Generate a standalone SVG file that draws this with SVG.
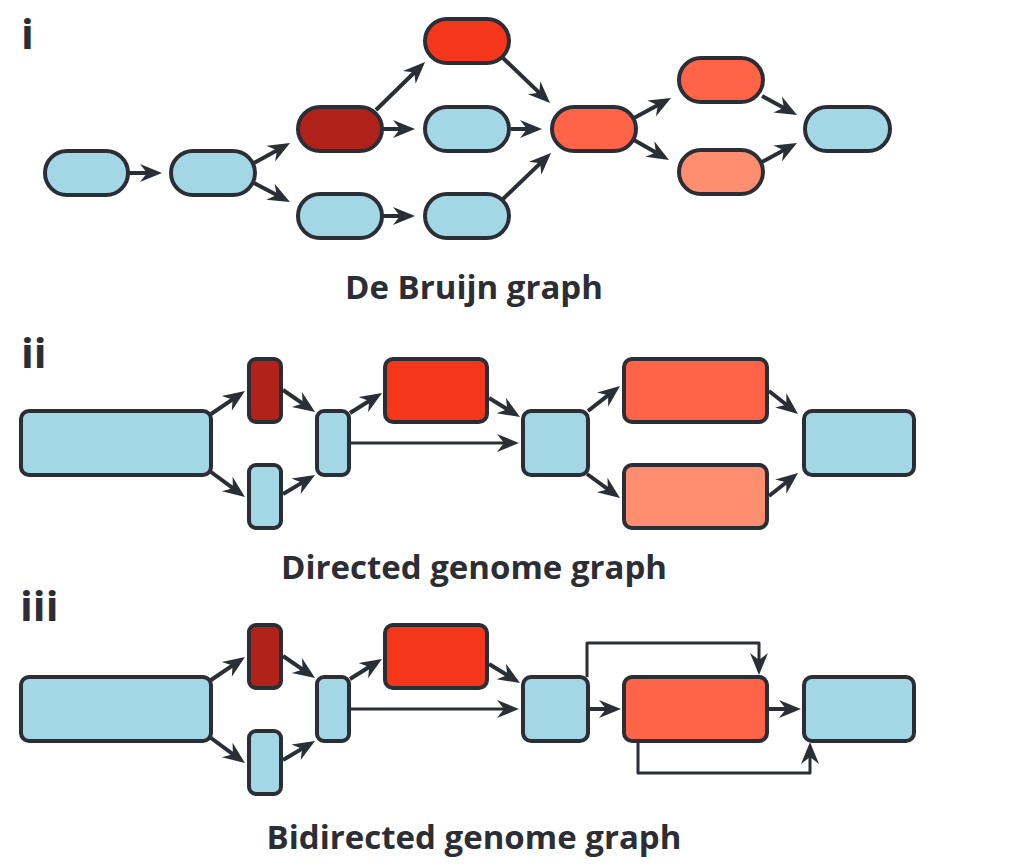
<svg xmlns="http://www.w3.org/2000/svg" width="1032" height="866" viewBox="0 0 1032 866">
<style>
.n{stroke:#2b2e34;stroke-width:4}
.b{fill:#a3d7e6}.dr{fill:#b0221a}.r{fill:#f4361a}.o{fill:#ff6448}.s{fill:#ff8d6f}
.e{fill:none;stroke:#2b2e34;stroke-width:4;marker-end:url(#ah)}
.t{fill:none;stroke:#2b2e34;stroke-width:3;marker-end:url(#ah);stroke-linejoin:round}
.lbl{font-family:"Open Sans","Noto Sans",sans-serif;font-weight:700;font-size:33px;fill:#2b2e34}
.pl{font-family:"Open Sans","Noto Sans",sans-serif;font-weight:700;font-size:42px;fill:#2b2e34}
</style>
<defs>
<marker id="ah" markerUnits="userSpaceOnUse" markerWidth="26" markerHeight="22" viewBox="-13 -11 26 22" refX="0" refY="0" orient="auto">
<path d="M10,0 L-12,-9 L-5,0 L-12,9 Z" fill="#2b2e34"/>
</marker>
</defs>
<rect width="1032" height="866" fill="#fff"/>

<text class="pl" x="21" y="49">i</text>
<text class="pl" x="21" y="368">ii</text>
<text class="pl" x="20" y="621">iii</text>

<text class="lbl" x="474" y="299" text-anchor="middle">De Bruijn graph</text>
<text class="lbl" x="474" y="579" text-anchor="middle">Directed genome graph</text>
<text class="lbl" x="474" y="849" text-anchor="middle">Bidirected genome graph</text>

<g id="connectors">
<!-- i -->
<line class="e" x1="129" y1="173" x2="152" y2="173"/>
<line class="e" x1="254" y1="163" x2="281.3" y2="147.9"/>
<line class="e" x1="254" y1="183" x2="281.1" y2="197.3"/>
<line class="e" x1="376" y1="110" x2="417.9" y2="69"/>
<line class="e" x1="381" y1="129" x2="405" y2="129"/>
<line class="e" x1="381" y1="216" x2="405" y2="216"/>
<line class="e" x1="503" y1="58" x2="542.8" y2="96.1"/>
<line class="e" x1="511" y1="129" x2="532" y2="129"/>
<line class="e" x1="503" y1="199" x2="543.8" y2="159.9"/>
<line class="e" x1="634" y1="118" x2="662.2" y2="102.8"/>
<line class="e" x1="634" y1="140" x2="660.3" y2="155"/>
<line class="e" x1="762" y1="96" x2="788.2" y2="110.2"/>
<line class="e" x1="762" y1="162" x2="788.2" y2="147.8"/>
<!-- ii -->
<line class="e" x1="211" y1="414" x2="236.7" y2="396.6"/>
<line class="e" x1="211" y1="472" x2="236.9" y2="491.1"/>
<line class="e" x1="283" y1="390" x2="306.8" y2="406.3"/>
<line class="e" x1="283" y1="494" x2="306.4" y2="480.1"/>
<line class="e" x1="350" y1="413" x2="373.5" y2="398.3"/>
<line class="t" x1="351" y1="443" x2="509" y2="443"/>
<line class="e" x1="489" y1="398" x2="511.5" y2="411.8"/>
<line class="e" x1="588" y1="411" x2="612.1" y2="392.2"/>
<line class="e" x1="587" y1="474" x2="611.9" y2="492.1"/>
<line class="e" x1="769" y1="391" x2="790.2" y2="407.8"/>
<line class="e" x1="769" y1="496" x2="790.2" y2="479.2"/>
<!-- iii -->
<line class="e" x1="211" y1="680" x2="236.7" y2="662.6"/>
<line class="e" x1="211" y1="738" x2="236.9" y2="757.1"/>
<line class="e" x1="283" y1="656" x2="306.8" y2="672.3"/>
<line class="e" x1="283" y1="760" x2="306.4" y2="746.1"/>
<line class="e" x1="350" y1="679" x2="373.5" y2="664.3"/>
<line class="t" x1="351" y1="709" x2="509" y2="709"/>
<line class="e" x1="489" y1="664" x2="511.5" y2="677.8"/>
<line class="e" x1="590" y1="709" x2="611" y2="709"/>
<line class="e" x1="769" y1="709" x2="791" y2="709"/>
<path class="t" d="M587,677 V643 H759 V665"/>
<path class="t" d="M638,741 V773 H810 V752"/>
</g>

<!-- i nodes -->
<g id="i-a"><rect class="n b" x="45" y="151" width="83" height="44" rx="22"/></g>
<g id="i-b"><rect class="n b" x="171" y="151" width="84" height="44" rx="22"/></g>
<g id="i-dr"><rect class="n dr" x="298" y="107" width="84" height="44" rx="22"/></g>
<g id="i-rt"><rect class="n r" x="425" y="19" width="84" height="44" rx="22"/></g>
<g id="i-bm"><rect class="n b" x="425" y="107" width="84" height="44" rx="22"/></g>
<g id="i-bl"><rect class="n b" x="298" y="194" width="84" height="44" rx="22"/></g>
<g id="i-br"><rect class="n b" x="425" y="194" width="84" height="44" rx="22"/></g>
<g id="i-oc"><rect class="n o" x="552" y="107" width="84" height="44" rx="22"/></g>
<g id="i-ot"><rect class="n o" x="679" y="58" width="84" height="44" rx="22"/></g>
<g id="i-sb"><rect class="n s" x="679" y="150" width="84" height="44" rx="22"/></g>
<g id="i-end"><rect class="n b" x="805" y="107" width="85" height="44" rx="22"/></g>

<!-- ii nodes -->
<g id="ii-big"><rect class="n b" x="21" y="411" width="190" height="64" rx="8"/></g>
<g id="ii-dr"><rect class="n dr" x="249" y="359" width="32" height="63" rx="7"/></g>
<g id="ii-bb"><rect class="n b" x="249" y="465" width="32" height="63" rx="7"/></g>
<g id="ii-mid"><rect class="n b" x="317" y="411" width="32" height="64" rx="7"/></g>
<g id="ii-red"><rect class="n r" x="385" y="359" width="102" height="63" rx="8"/></g>
<g id="ii-sq"><rect class="n b" x="523" y="411" width="65" height="64" rx="8"/></g>
<g id="ii-or"><rect class="n o" x="624" y="359" width="143" height="63" rx="8"/></g>
<g id="ii-sal"><rect class="n s" x="624" y="465" width="143" height="63" rx="8"/></g>
<g id="ii-end"><rect class="n b" x="804" y="411" width="110" height="64" rx="8"/></g>

<!-- iii nodes -->
<g id="iii-big"><rect class="n b" x="21" y="677" width="190" height="64" rx="8"/></g>
<g id="iii-dr"><rect class="n dr" x="249" y="625" width="32" height="63" rx="7"/></g>
<g id="iii-bb"><rect class="n b" x="249" y="731" width="32" height="63" rx="7"/></g>
<g id="iii-mid"><rect class="n b" x="317" y="677" width="32" height="64" rx="7"/></g>
<g id="iii-red"><rect class="n r" x="385" y="625" width="102" height="63" rx="8"/></g>
<g id="iii-sq"><rect class="n b" x="523" y="677" width="65" height="64" rx="8"/></g>
<g id="iii-or"><rect class="n o" x="624" y="677" width="143" height="64" rx="8"/></g>
<g id="iii-end"><rect class="n b" x="804" y="677" width="110" height="64" rx="8"/></g>
</svg>
